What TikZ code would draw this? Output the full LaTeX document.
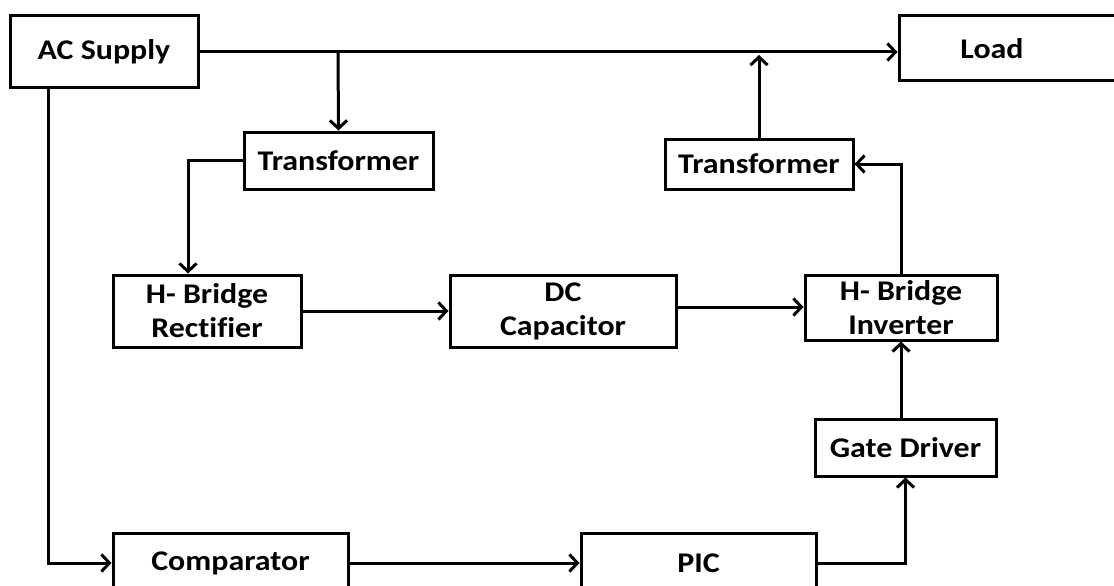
\documentclass[tikz,border=0pt]{standalone}
\usepackage{fontspec}
\setmainfont{Carlito}[FakeStretch=1.12,Ligatures=NoCommon]
\usetikzlibrary{arrows.meta}
\begin{document}
\begin{tikzpicture}[x=1pt,y=-1pt,
  blk/.style={draw, line width=3pt, inner sep=0pt, align=center,
     font=\bfseries\fontsize{28.5}{34}\selectfont},
  conn/.style={line width=3pt, -{Straight Barb[length=8pt,width=17pt,line width=3pt]}}]
\useasboundingbox (0,0) rectangle (1114,586);
\clip (0,0) rectangle (1114,586);
\node[blk, minimum width=188, minimum height=72] (ac) at (104,52) {AC Supply};
\node[blk, minimum width=231, minimum height=65] (load) at (1014.5,48.5) {};
\node[font=\bfseries\fontsize{28.5}{34}\selectfont] (loadtxt) at (992,48.5) {Load};
\node[blk, minimum width=189, minimum height=57] (t1) at (338.5,160.5) {Transformer};
\node[blk, minimum width=188, minimum height=72] (rect) at (207,311) {H- Bridge\\Rectifier};
\node[blk, minimum width=226, minimum height=72] (dc) at (563,311) {DC\\Capacitor};
\node[blk, minimum width=192, minimum height=65] (inv) at (901,307.5) {H- Bridge\\Inverter};
\node[blk, minimum width=188, minimum height=50] (t2) at (759,164) {Transformer};
\node[blk, minimum width=181, minimum height=57] (gd) at (905.5,447.5) {Gate Driver};
\node[blk, minimum width=235, minimum height=60] (comp) at (230.5,563) {Comparator};
\node[blk, minimum width=235, minimum height=60] (pic) at (698.5,563) {PIC};
\coordinate (t2tip) at (759,55);
\coordinate (split) at (338,52);
\draw[conn] (ac.east) -- (ac.east -| load.west);
\draw[conn] (split) -- (t1.north);
\draw[conn] (t1.west) -| ([xshift=-19pt]rect.north);
\draw[conn] (rect.east) -- (dc.west);
\draw[conn] ([yshift=4pt]dc.east) -- ([yshift=4pt]dc.east -| inv.west);
\draw[conn] (inv.north) |- (t2.east);
\draw[conn] (t2.north) -- (t2tip);
\draw[conn] (gd.north -| inv.north) -- (inv.south);
\draw[conn] (pic.east) -| (gd.south);
\draw[conn] ([xshift=-56pt]ac.south) |- (comp.west);
\draw[conn] (comp.east) -- (pic.west);
\end{tikzpicture}
\end{document}
